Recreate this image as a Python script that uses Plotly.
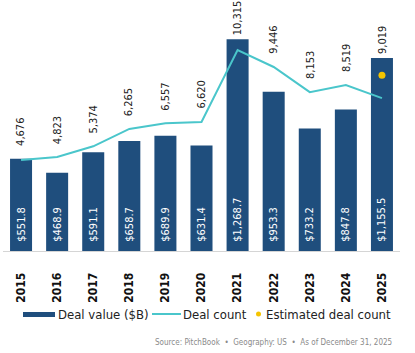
import plotly.graph_objects as go

years = ["2015", "2016", "2017", "2018", "2019", "2020", "2021", "2022", "2023", "2024", "2025"]
deal_value = [551.8, 468.9, 591.1, 658.7, 689.9, 631.4, 1268.7, 953.3, 733.2, 847.8, 1155.5]
deal_count = [4676, 4823, 5374, 6265, 6557, 6620, 10315, 9446, 8153, 8519, 7850]
est_year = ["2025"]
est_count = [9019]
count_labels = [4676, 4823, 5374, 6265, 6557, 6620, 10315, 9446, 8153, 8519, 9019]

NAVY = "#1F4E7D"
TEAL = "#4AC6CB"
GOLD = "#F5C400"
FONT = "DejaVu Sans Condensed, Liberation Sans Narrow, Roboto, sans-serif"

Y1_MAX = 1503
Y2_MAX = 12885
K = Y2_MAX / Y1_MAX

fig = go.Figure()
fig.add_trace(go.Bar(
    x=years, y=deal_value, marker=dict(color=NAVY, line=dict(width=0)),
    texttemplate="  $%{y:,.1f}", textposition="inside", insidetextanchor="start",
    textangle=-90, textfont=dict(color="white", size=11, family=FONT),
    showlegend=False, hoverinfo="skip",
))
fig.add_trace(go.Scatter(
    x=years, y=deal_count, yaxis="y2", mode="lines",
    line=dict(color=TEAL, width=2), showlegend=False, hoverinfo="skip",
))
fig.add_trace(go.Scatter(
    x=est_year, y=est_count, yaxis="y2", mode="markers",
    marker=dict(color=GOLD, size=7), showlegend=False, hoverinfo="skip",
))

for i, (yr, lab, cnt, val) in enumerate(zip(years, count_labels, deal_count, deal_value)):
    bar_c = val * K
    ref_cnt = est_count[est_year.index(yr)] if yr in est_year else cnt
    ref = max(ref_cnt, bar_c)
    shift = 3 if bar_c > ref_cnt * 1.05 else 12
    fig.add_annotation(
        x=i, y=ref, xref="x", yref="y2", text=f"{lab:,}", textangle=-90,
        showarrow=False, yanchor="bottom", yshift=shift, borderpad=0,
        font=dict(size=11, color="#222222", family=FONT),
    )

# manual legend (paper coords: plot spans px 3..400 horizontally, 0..251 vertically)
W0, W = 3, 397
H = 251
def px(x):
    return (x - W0) / W
def py(y):
    return (H - y) / H

fig.add_shape(type="rect", xref="paper", yref="paper",
              x0=px(23), x1=px(55), y0=py(317), y1=py(312),
              fillcolor=NAVY, line=dict(width=0))
fig.add_annotation(xref="paper", yref="paper", x=px(56), y=py(314),
                   xanchor="left", yanchor="middle", showarrow=False,
                   text="Deal value ($B)", font=dict(size=13, color="#222222", family=FONT))
fig.add_shape(type="line", xref="paper", yref="paper",
              x0=px(152), x1=px(181), y0=py(314), y1=py(314),
              line=dict(color=TEAL, width=2))
fig.add_annotation(xref="paper", yref="paper", x=px(181), y=py(314),
                   xanchor="left", yanchor="middle", showarrow=False,
                   text="Deal count", font=dict(size=13, color="#222222", family=FONT))
fig.add_shape(type="circle", xref="paper", yref="paper",
              x0=px(256), x1=px(261), y0=py(316.5), y1=py(311.5),
              fillcolor=GOLD, line=dict(width=0))
fig.add_annotation(xref="paper", yref="paper", x=px(264), y=py(314),
                   xanchor="left", yanchor="middle", showarrow=False,
                   text="Estimated deal count", font=dict(size=13, color="#222222", family=FONT))
fig.add_annotation(xref="paper", yref="paper", x=px(394), y=py(342),
                   xanchor="right", yanchor="middle", showarrow=False,
                   text="Source: PitchBook  •  Geography: US  •  As of December 31, 2025",
                   font=dict(size=8, color="#8A8A8A", family=FONT))

fig.update_layout(
    width=415, height=353,
    margin=dict(l=3, r=15, t=0, b=102, pad=0),
    paper_bgcolor="white", plot_bgcolor="white",
    bargap=0.39,
    xaxis=dict(type="category", categoryorder="array", categoryarray=years,
               range=[-0.5, len(years) - 0.5], tickangle=-90, showgrid=False,
               showline=True, linecolor="#D5D5D5", linewidth=1,
               ticks="outside", ticklen=16, tickcolor="rgba(0,0,0,0)",
               tickfont=dict(size=12, color="#111111", family=FONT, weight="bold")),
    yaxis=dict(range=[0, Y1_MAX], visible=False, showgrid=False),
    yaxis2=dict(range=[0, Y2_MAX], overlaying="y", visible=False, showgrid=False),
)

fig.write_html("out.html")
